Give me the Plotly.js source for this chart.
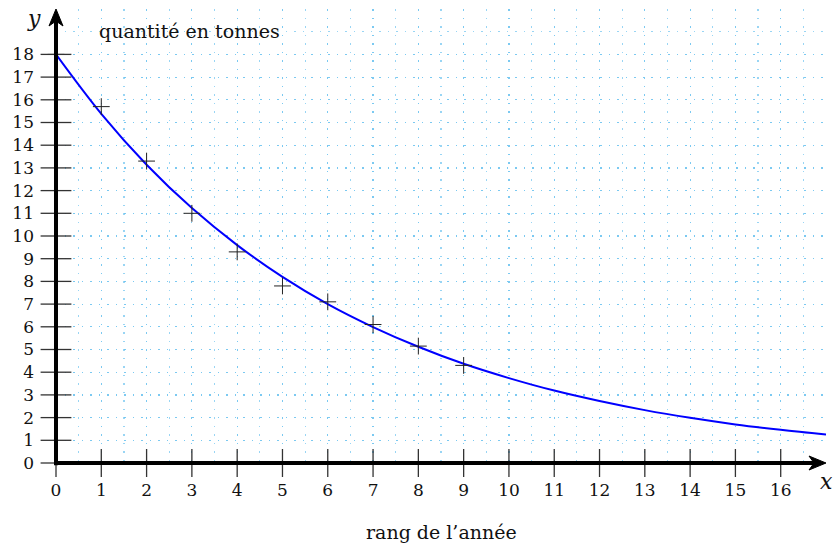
<!DOCTYPE html>
<html>
<head>
<meta charset="utf-8">
<script src="https://cdn.plot.ly/plotly-3.0.1.min.js"></script>
<style>html,body{margin:0;padding:0;background:#fff;}#chart{width:837px;height:548px;}</style>
</head>
<body>
<div id="chart"></div>
<script>
// Data
const pointRank = [0, 1, 2, 3, 4, 5, 6, 7, 8, 9];
const pointTonnes = [18, 15.7, 13.3, 11.0, 9.3, 7.8, 7.1, 6.1, 5.15, 4.3];
const curveX = [0, 1, 2, 3, 4, 5, 6, 7, 8, 9, 10, 11, 12, 13, 14, 15, 16, 17];
const curveY = [18, 15.38, 13.14, 11.23, 9.6, 8.2, 7.0, 5.99, 5.12, 4.37, 3.74, 3.19, 2.73, 2.33, 1.99, 1.7, 1.46, 1.25];
const xTicks = [0, 1, 2, 3, 4, 5, 6, 7, 8, 9, 10, 11, 12, 13, 14, 15, 16];
const yTicks = [0, 1, 2, 3, 4, 5, 6, 7, 8, 9, 10, 11, 12, 13, 14, 15, 16, 17, 18];
const yLabelText = 'quantité en tonnes';
const xLabelText = 'rang de l’année';

const serif = 'DejaVu Serif, Liberation Serif, serif';
const gridCol = 'rgba(110,195,240,0.7)';
const gridDash = '1.5px,7px';
const tickCol = '#333';

const traces = [
  { // curve
    x: curveX, y: curveY, mode: 'lines', type: 'scatter',
    line: {color: '#0000ff', width: 2, shape: 'spline'}, hoverinfo: 'skip'
  },
  { // data points
    x: pointRank, y: pointTonnes, mode: 'markers', type: 'scatter',
    marker: {symbol: 'cross-thin-open', size: 12, color: '#222', line: {color: '#222', width: 1}},
    cliponaxis: false
  },
  { // x tick marks (crossing the axis)
    x: xTicks, y: xTicks.map(() => 0), mode: 'markers', type: 'scatter',
    marker: {symbol: 'line-ns', size: 20, color: tickCol, line: {color: tickCol, width: 1.3}},
    cliponaxis: false, hoverinfo: 'skip'
  },
  { // y tick marks
    x: yTicks.map(() => 0), y: yTicks, mode: 'markers', type: 'scatter',
    marker: {symbol: 'line-ew', size: 22, color: tickCol, line: {color: tickCol, width: 1.3}},
    cliponaxis: false, hoverinfo: 'skip'
  }
];

const layout = {
  width: 837, height: 548,
  margin: {l: 56, r: 11, t: 9, b: 85},
  paper_bgcolor: '#fff', plot_bgcolor: '#fff',
  showlegend: false,
  font: {family: serif, size: 17, color: '#111'},
  xaxis: {
    range: [0, 17], tickmode: 'array', tickvals: xTicks, ticktext: xTicks.map(String),
    ticks: '', ticklabelstandoff: 15, showline: false, zeroline: false,
    showgrid: true, gridcolor: gridCol, griddash: gridDash, gridwidth: 1.2,
    minor: {tickmode: 'linear', tick0: 0, dtick: 0.5, showgrid: true, gridcolor: gridCol, griddash: gridDash, gridwidth: 1.2, ticks: ''},
    tickfont: {family: serif, size: 17, color: '#111'}, fixedrange: true
  },
  yaxis: {
    range: [0, 20], tickmode: 'array', tickvals: yTicks, ticktext: yTicks.map(String),
    ticks: '', ticklabelstandoff: 21, showline: false, zeroline: false,
    showgrid: true, gridcolor: gridCol, griddash: gridDash, gridwidth: 1.2,
    minor: {tickmode: 'linear', tick0: 0, dtick: 1, showgrid: true, gridcolor: gridCol, griddash: gridDash, gridwidth: 1.2, ticks: ''},
    tickfont: {family: serif, size: 17, color: '#111'}, fixedrange: true
  },
  shapes: [
    {type: 'line', xref: 'paper', yref: 'paper', x0: 0, y0: 0, x1: 0.985, y1: 0, line: {color: '#000', width: 4}, layer: 'above'},
    {type: 'line', xref: 'paper', yref: 'paper', x0: 0, y0: -0.005, x1: 0, y1: 0.975, line: {color: '#000', width: 4}, layer: 'above'},
    {type: 'path', xref: 'paper', yref: 'paper', xsizemode: 'pixel', ysizemode: 'pixel', xanchor: 1, yanchor: 0,
     path: 'M0,0 L-17,7 L-12,0 L-17,-7 Z', fillcolor: '#000', line: {color: '#000', width: 1}, layer: 'above'},
    {type: 'path', xref: 'paper', yref: 'paper', xsizemode: 'pixel', ysizemode: 'pixel', xanchor: 0, yanchor: 1,
     path: 'M0,0 L-7,-17 L0,-12 L7,-17 Z', fillcolor: '#000', line: {color: '#000', width: 1}, layer: 'above'}
  ],
  annotations: [
    {xref: 'x', yref: 'y', x: 0.9, y: 19.03, xanchor: 'left', yanchor: 'middle', text: yLabelText, showarrow: false,
     font: {family: serif, size: 19, color: '#111'}},
    {xref: 'paper', yref: 'paper', x: 0.5, y: -0.152, xanchor: 'center', yanchor: 'middle', text: xLabelText, showarrow: false,
     font: {family: serif, size: 19, color: '#111'}},
    {xref: 'paper', yref: 'paper', x: -0.0286, y: 0.98, xanchor: 'center', yanchor: 'middle', text: '<i>y</i>', showarrow: false,
     font: {family: serif, size: 22, color: '#111'}},
    {xref: 'paper', yref: 'paper', x: 1.001, y: -0.04, xanchor: 'center', yanchor: 'middle', text: '<i>x</i>', showarrow: false,
     font: {family: serif, size: 22, color: '#111'}}
  ]
};

Plotly.newPlot('chart', traces, layout, {displayModeBar: false, staticPlot: true});
</script>
</body>
</html>
